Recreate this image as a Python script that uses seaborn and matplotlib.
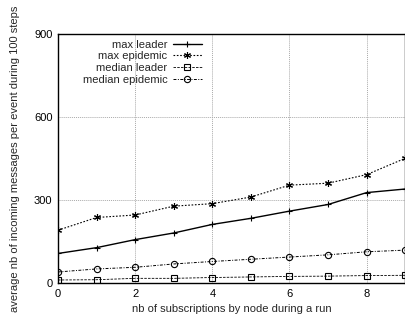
import matplotlib
matplotlib.use("Agg")
import matplotlib.pyplot as plt
import seaborn as sns
import pandas as pd

subscriptions = [0, 1, 2, 3, 4, 5, 6, 7, 8, 9]
max_leader = [107, 128, 157, 181, 212, 234, 260, 284, 327, 340]
max_epidemic = [191, 237, 246, 278, 287, 311, 354, 361, 392, 451]
median_leader = [11, 12, 17, 17, 20, 22, 24, 25, 27, 28]
median_epidemic = [40, 51, 57, 69, 78, 86, 94, 102, 113, 119]
series_names = ["max leader", "max epidemic", "median leader", "median epidemic"]
x_ticks = [0, 2, 4, 6, 8]
y_ticks = [0, 300, 600, 900]

sns.set_theme(style="white")
plt.rcParams["font.family"] = ["Liberation Sans", "DejaVu Sans"]

fig = plt.figure(figsize=(4.06, 3.22), dpi=100)
ax = fig.add_axes([0.143, 0.121, 0.855, 0.773])

styles = {
    "max leader": dict(linestyle="-", marker="+", ms=5, mfc="black", lw=1.0),
    "max epidemic": dict(linestyle=(0, (1.5, 1.5)), marker=(6, 2, 0), ms=5, mfc="black", lw=0.8),
    "median leader": dict(linestyle=(0, (3, 1.5)), marker="s", ms=4.5, mfc="none", lw=0.6),
    "median epidemic": dict(linestyle=(0, (3, 1.5, 1, 1.5)), marker="o", ms=4.5, mfc="none", lw=0.7),
}
data = {
    "max leader": max_leader,
    "max epidemic": max_epidemic,
    "median leader": median_leader,
    "median epidemic": median_epidemic,
}
for name in series_names:
    df = pd.DataFrame({"x": subscriptions, "y": data[name]})
    st = styles[name]
    sns.lineplot(data=df, x="x", y="y", ax=ax, color="black", label=name,
                 linestyle=st["linestyle"], marker=st["marker"], markersize=st["ms"],
                 markerfacecolor=st["mfc"], markeredgecolor="black", markeredgewidth=0.8,
                 linewidth=st["lw"])

ax.set_xlim(0, 9)
ax.set_ylim(0, 900)
ax.set_xticks(x_ticks)
ax.set_yticks(y_ticks)
ax.grid(True, color="#aaaaaa", linestyle=(0, (1, 1)), linewidth=0.7)
for s in ax.spines.values():
    s.set_color("black")
    s.set_linewidth(1.0)
ax.tick_params(axis="both", labelsize=8, length=0, pad=4, colors="black")
ax.set_xlabel("nb of subscriptions by node during a run", fontsize=8, labelpad=4)
ax.set_ylabel("average nb of incoming messages per event during 100 steps", fontsize=8, labelpad=10)

leg = ax.legend(loc="upper right", bbox_to_anchor=(0.43, 1.0), frameon=False, markerfirst=False,
                fontsize=8, handlelength=2.6, labelspacing=0.15, borderaxespad=0.1,
                handletextpad=0.5)

fig.savefig("out.png", dpi=100)
